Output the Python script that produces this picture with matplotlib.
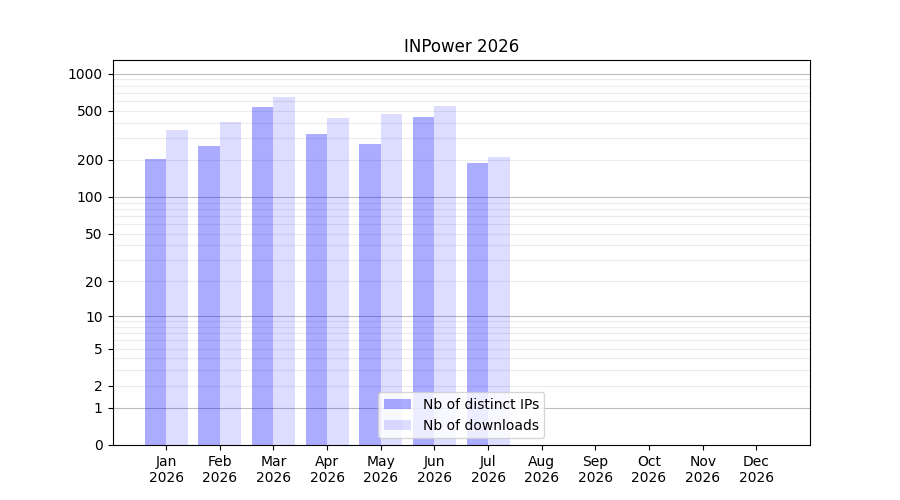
import numpy as np
import matplotlib
matplotlib.use('Agg')
import matplotlib.pyplot as plt

months = ['Jan', 'Feb', 'Mar', 'Apr', 'May', 'Jun', 'Jul', 'Aug', 'Sep', 'Oct', 'Nov', 'Dec']
year = '2026'
distinct_ips = [203, 260, 535, 327, 268, 450, 188]
downloads = [352, 408, 650, 440, 475, 552, 213]
ytick_values = [0, 1, 2, 5, 10, 20, 50, 100, 200, 500, 1000]
major_lines = [1, 10, 100, 1000]
minor_lines = [m * d for d in [1, 10, 100, 1000] for m in range(2, 10)]


def fwd(v):
    return np.log10(np.clip(v, 0, None) + 1)


def inv(v):
    return 10 ** v - 1


fig, ax = plt.subplots(figsize=(9, 5), dpi=100)
ax.set_yscale('function', functions=(fwd, inv))

x = np.arange(len(months))
w = 0.4
n = len(distinct_ips)
ax.bar(x[:n] - w / 2, distinct_ips, width=w, color='blue', alpha=0.33, label='Nb of distinct IPs')
ax.bar(x[:n] + w / 2, downloads, width=w, color='blue', alpha=0.135, label='Nb of downloads')

# light lines between decades, darker ones on each decade
for v in minor_lines:
    ax.axhline(v, color='#ececec', linewidth=0.8, zorder=0.5)
for v in major_lines:
    ax.axhline(v, color='#bdbdbd', linewidth=0.8, zorder=0.5)

ax.set_ylim(0, 1290)
ax.set_xlim(-1, 12)
ax.set_yticks(ytick_values)
ax.set_yticklabels([str(v) for v in ytick_values])
ax.minorticks_off()
ax.set_xticks(x)
ax.set_xticklabels([m + '\n' + year for m in months])
ax.set_title('INPower 2026')
ax.legend(loc='lower center')

fig.savefig('out.png')
